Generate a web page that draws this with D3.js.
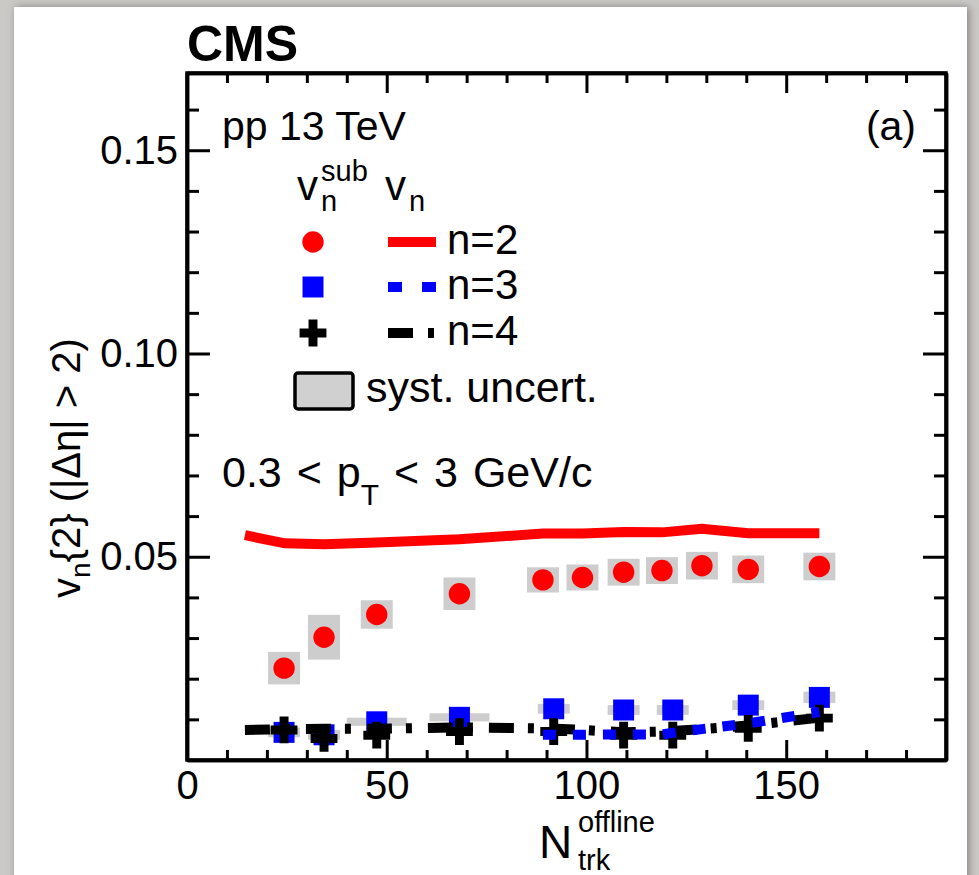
<!DOCTYPE html>
<html><head><meta charset="utf-8">
<script src="https://cdn.jsdelivr.net/npm/d3@7"></script>
<style>
body{margin:0;background:#cac8c5;}
svg{display:block;font-family:"Liberation Sans",Arial,Helvetica,sans-serif;}
</style>
</head><body>
<svg id="c" width="979" height="875"></svg>
<script>
// ---------- data ----------
const v2subN   = [24.3, 34.3, 47.5, 68.2, 89.1, 99.0, 109.3, 118.9, 128.9, 140.5, 158.3];
const v2subV   = [0.0226, 0.0302, 0.0358, 0.0409, 0.0443, 0.0449, 0.0462, 0.0466, 0.0478, 0.0469, 0.0476];
const v2subSys = [0.0040, 0.0055, 0.0035, 0.0040, 0.0031, 0.0032, 0.0033, 0.0033, 0.0034, 0.0034, 0.0034];
const v2subHalfW = [4, 4, 4, 4, 4, 4, 4, 4, 4, 4, 4];

const v34subN   = [24.3, 34.3, 47.5, 68.2, 91.8, 109.3, 121.6, 140.5, 158.3];
const v3subV    = [0.0068, 0.0062, 0.0094, 0.0105, 0.0126, 0.0123, 0.0123, 0.0135, 0.0154];
const v3subSys  = [0.0012, 0.0012, 0.0010, 0.0010, 0.0012, 0.0012, 0.0012, 0.0012, 0.0014];
const v3subHalfW = [4, 4, 7.5, 7.5, 4, 4, 4, 4, 4];
const v4subV    = [0.0074, 0.0053, 0.0061, 0.0070, 0.0070, 0.0061, 0.0061, 0.0078, 0.0103];

const vnN  = [14.5, 24.5, 34.3, 47.5, 68.2, 89.1, 99.0, 109.3, 118.9, 128.9, 140.5, 158.3];
const v2V  = [0.0553, 0.0533, 0.0531, 0.0535, 0.0543, 0.0557, 0.0557, 0.0561, 0.0560, 0.0569, 0.0558, 0.0558];
const v4V  = [0.0074, 0.0076, 0.0077, 0.0077, 0.0080, 0.0078, 0.0074, 0.0068, 0.0070, 0.0076, 0.0085, 0.0104];
const v3lineN = [89.1, 99.0, 109.3, 118.9, 128.9, 140.5, 158.3];
const v3V     = [0.0062, 0.0062, 0.0063, 0.0063, 0.0076, 0.0090, 0.0118];

const xTicks = [0, 50, 100, 150];
const yTicks = [0.05, 0.10, 0.15];
const xDomain = [0, 190];
const yDomain = [0, 0.169];

// ---------- layout ----------
const L = 187, R = 946, T = 73, B = 760;
const svg = d3.select("#c");
const defs = svg.append("defs");
const f = defs.append("filter").attr("id","sh").attr("x","-5%").attr("y","-5%").attr("width","110%").attr("height","110%");
f.append("feDropShadow").attr("dx",2).attr("dy",0).attr("stdDeviation",4).attr("flood-color","#000").attr("flood-opacity",0.35);

svg.append("rect").attr("width",979).attr("height",875).attr("fill","#cbc9c6");
svg.append("rect").attr("x",14).attr("y",7).attr("width",953).attr("height",880).attr("fill","#fff").attr("filter","url(#sh)");

const x = d3.scaleLinear().domain(xDomain).range([L, R]);
const y = d3.scaleLinear().domain(yDomain).range([B, T]);

const FS = 40, TS = 42;
const g = svg.append("g");

// ---------- syst boxes ----------
const boxFill = "#cdcdcd";
g.append("g").selectAll("rect").data(v2subN.map((n,i)=>({n, v:v2subV[i], s:v2subSys[i], w:v2subHalfW[i]})))
  .join("rect")
  .attr("x", d=>x(d.n-d.w)).attr("width", d=>x(d.n+d.w)-x(d.n-d.w))
  .attr("y", d=>y(d.v+d.s)).attr("height", d=>y(d.v-d.s)-y(d.v+d.s))
  .attr("fill", boxFill);
g.append("g").selectAll("rect").data(v34subN.map((n,i)=>({n, v:v3subV[i], s:v3subSys[i], w:v3subHalfW[i]})))
  .join("rect")
  .attr("x", d=>x(d.n-d.w)).attr("width", d=>x(d.n+d.w)-x(d.n-d.w))
  .attr("y", d=>y(d.v+d.s)).attr("height", d=>y(d.v-d.s)-y(d.v+d.s))
  .attr("fill", boxFill);

// ---------- markers ----------
const circ = d3.symbol().type(d3.symbolCircle).size(360);
const sq = d3.symbol().type(d3.symbolSquare).size(440);
const cross = d3.symbol().type(d3.symbolCross).size(400);

g.append("g").selectAll("path").data(v2subN.map((n,i)=>[n, v2subV[i]])).join("path")
  .attr("d", circ).attr("transform", d=>`translate(${x(d[0])},${y(d[1])})`).attr("fill","#ff0000");
g.append("g").selectAll("path").data(v34subN.map((n,i)=>[n, v3subV[i]])).join("path")
  .attr("d", sq).attr("transform", d=>`translate(${x(d[0])},${y(d[1])})`).attr("fill","#0000ff");
g.append("g").selectAll("path").data(v34subN.map((n,i)=>[n, v4subV[i]])).join("path")
  .attr("d", cross).attr("transform", d=>`translate(${x(d[0])},${y(d[1])})`).attr("fill","#000");

// ---------- lines ----------
const line = d3.line().x(d=>x(d[0])).y(d=>y(d[1]));
g.append("path").datum(vnN.map((n,i)=>[n, v2V[i]])).attr("d", line)
  .attr("fill","none").attr("stroke","#ff0000").attr("stroke-width",10);
g.append("path").datum(vnN.map((n,i)=>[n, v4V[i]])).attr("d", line)
  .attr("fill","none").attr("stroke","#000").attr("stroke-width",10).attr("stroke-dasharray","25,14,6,16");
g.append("path").datum(v3lineN.map((n,i)=>[n, v3V[i]])).attr("d", line)
  .attr("fill","none").attr("stroke","#0000ff").attr("stroke-width",10).attr("stroke-dasharray","13,17");

// ---------- axes ----------
const minorX = d3.range(0, 191, 10).filter(v=>v%50!==0);
const minorY = d3.range(1, 17).map(v=>v/100).filter(v=>Math.round(v*100)%5!==0);
function styleAxis(sel){
  sel.selectAll(".domain").attr("stroke","#000").attr("stroke-width",3.5);
  sel.selectAll(".tick line").attr("stroke","#000").attr("stroke-width",3);
  sel.selectAll(".tick text").attr("font-size",FS).attr("fill","#000").attr("font-family","Liberation Sans, Arial, sans-serif");
}
const axB = svg.append("g").attr("transform",`translate(0,${B})`)
  .call(d3.axisBottom(x).tickValues(xTicks).tickSizeInner(-20).tickSizeOuter(0).tickPadding(11).tickFormat(d3.format("d")));
styleAxis(axB);
const axBm = svg.append("g").attr("transform",`translate(0,${B})`)
  .call(d3.axisBottom(x).tickValues(minorX).tickSizeInner(-10).tickSizeOuter(0).tickFormat(""));
styleAxis(axBm);
const axT = svg.append("g").attr("transform",`translate(0,${T})`)
  .call(d3.axisTop(x).tickValues(xTicks).tickSizeInner(-20).tickSizeOuter(0).tickFormat(""));
styleAxis(axT);
const axTm = svg.append("g").attr("transform",`translate(0,${T})`)
  .call(d3.axisTop(x).tickValues(minorX).tickSizeInner(-10).tickSizeOuter(0).tickFormat(""));
styleAxis(axTm);
const axL = svg.append("g").attr("transform",`translate(${L},0)`)
  .call(d3.axisLeft(y).tickValues(yTicks).tickSizeInner(-23).tickSizeOuter(0).tickPadding(9).tickFormat(d3.format(".2f")));
styleAxis(axL);
const axLm = svg.append("g").attr("transform",`translate(${L},0)`)
  .call(d3.axisLeft(y).tickValues(minorY).tickSizeInner(-12).tickSizeOuter(0).tickFormat(""));
styleAxis(axLm);
const axR = svg.append("g").attr("transform",`translate(${R},0)`)
  .call(d3.axisRight(y).tickValues(yTicks).tickSizeInner(-23).tickSizeOuter(0).tickFormat(""));
styleAxis(axR);
const axRm = svg.append("g").attr("transform",`translate(${R},0)`)
  .call(d3.axisRight(y).tickValues(minorY).tickSizeInner(-12).tickSizeOuter(0).tickFormat(""));
styleAxis(axRm);
svg.append("rect").attr("x",L).attr("y",T).attr("width",R-L).attr("height",B-T)
  .attr("fill","none").attr("stroke","#000").attr("stroke-width",3.5);

// ---------- texts ----------
function txt(xp, yp, s, size, opts={}){
  const t = svg.append("text").attr("x",xp).attr("y",yp).attr("font-size",size).attr("fill","#000").text(s);
  if(opts.anchor) t.attr("text-anchor",opts.anchor);
  if(opts.bold) t.attr("font-weight","bold");
  return t;
}
txt(187, 61, "CMS", 50, {bold:true});
txt(222, 140, "pp 13 TeV", 41);
txt(916, 140, "(a)", 41, {anchor:"end"});

// legend header
txt(297, 200, "v", TS); txt(321, 181, "sub", 29); txt(321, 211, "n", 29);
txt(385, 200, "v", TS); txt(409, 211, "n", 29);

// legend rows
const lgX1 = 388, lgX2 = 436, lgMx = 313;
const rows = [
  {yy:242, label:"n=2"},
  {yy:287, label:"n=3"},
  {yy:333, label:"n=4"}
];
svg.append("path").attr("d",circ).attr("transform",`translate(${lgMx},${rows[0].yy})`).attr("fill","#ff0000");
svg.append("path").attr("d",sq).attr("transform",`translate(${lgMx},${rows[1].yy})`).attr("fill","#0000ff");
svg.append("path").attr("d",cross).attr("transform",`translate(${lgMx},${rows[2].yy})`).attr("fill","#000");
svg.append("line").attr("x1",lgX1).attr("x2",lgX2).attr("y1",rows[0].yy).attr("y2",rows[0].yy).attr("stroke","#ff0000").attr("stroke-width",10);
svg.append("line").attr("x1",lgX1).attr("x2",lgX2).attr("y1",rows[1].yy).attr("y2",rows[1].yy).attr("stroke","#0000ff").attr("stroke-width",10).attr("stroke-dasharray","14,20");
svg.append("line").attr("x1",lgX1).attr("x2",lgX2).attr("y1",rows[2].yy).attr("y2",rows[2].yy).attr("stroke","#000").attr("stroke-width",10).attr("stroke-dasharray","25,15,6,16");
rows.forEach(r=>txt(447, r.yy+12, r.label, TS));
svg.append("rect").attr("x",295).attr("y",373).attr("width",58).attr("height",36).attr("rx",3)
  .attr("fill","#d0d0d0").attr("stroke","#000").attr("stroke-width",3.5);
txt(366, 402, "syst. uncert.", TS+1);

// kinematic range
const kt = txt(222, 487, "", 43).attr("word-spacing", 3);
kt.append("tspan").text("0.3 < p");
kt.append("tspan").attr("font-size",30).attr("dy",18).text("T");
kt.append("tspan").attr("dy",-18).text(" < 3 GeV/c");

// y title
const yt = svg.append("text").attr("transform","translate(80,598) rotate(-90)").attr("font-size",FS).attr("fill","#000");
yt.append("tspan").text("v");
yt.append("tspan").attr("font-size",28).attr("dy",10).text("n");
yt.append("tspan").attr("dy",-10).text("{2} (|Δη| > 2)");

// x title
txt(539, 858, "N", 46);
txt(578, 832, "offline", 29);
txt(578, 870, "trk", 29);
</script>
</body></html>
